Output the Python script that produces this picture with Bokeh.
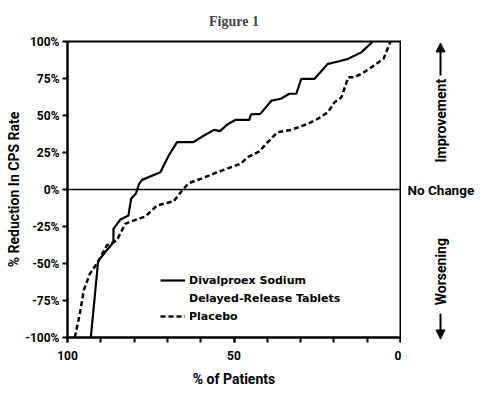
from bokeh.plotting import figure
from bokeh.layouts import row
from bokeh.models import (Range1d, FixedTicker, PrintfTickFormatter, Span,
                          Arrow, NormalHead, Legend, LegendItem)
from bokeh.core.properties import value
from bokeh.embed import file_html
from bokeh.resources import INLINE

# % of patients (x) vs % reduction in CPS rate (y)
divalproex_x = [93.0, 90.8, 88.7, 86.2, 86.2, 84.2, 81.7, 80.9, 79.4, 78.5, 77.6, 72.1,
                69.6, 67.1, 62.2, 59.0, 56.0, 54.2, 52.0, 49.5, 45.4, 44.9, 42.1, 38.7,
                35.9, 33.4, 31.3, 29.8, 25.8, 21.8, 18.7, 15.7, 11.7, 8.3]
divalproex_y = [-100, -48.4, -42.4, -35.6, -26.6, -20.5, -17.6, -6.3, -2.5, 3.8, 6.5, 11.7,
                23.0, 32.0, 32.0, 36.5, 40.3, 39.4, 43.9, 47.1, 47.1, 50.7, 51.1, 60.1,
                61.3, 64.7, 64.7, 74.8, 74.8, 84.9, 86.5, 88.3, 92.8, 100]

placebo_x = [97.8, 96.3, 95.1, 93.3, 91.2, 88.2, 85.2, 82.7, 80.2, 76.6, 73.1, 68.1,
             65.6, 63.6, 60.0, 55.0, 51.0, 48.0, 45.9, 42.4, 39.9, 36.9, 32.8, 27.8,
             24.8, 21.8, 19.8, 17.7, 15.7, 13.7, 11.7, 8.7, 5.1, 3.0]
placebo_y = [-100, -84, -68, -57, -50.2, -37.8, -34.5, -23.2, -21, -18.2, -10.8, -7.9,
             -0.7, 4.3, 7.2, 11.7, 15.0, 17.4, 21.8, 25.7, 32.0, 38.7, 40.3, 44.4,
             47.8, 52.2, 59.0, 62.4, 75.9, 75.9, 78.2, 82.6, 88.3, 100]

x_major = [0, 50, 100]
x_minor = [0, 10, 20, 30, 40, 50, 60, 70, 80, 90, 100]
y_ticks = [-100, -75, -50, -25, 0, 25, 50, 75, 100]

side_labels = ["Improvement", "Worsening"]
side_label_y = [46.5, -55.5]

FONT = "Roboto"

yr = Range1d(-100, 100)
p = figure(width=401, height=394, output_backend="svg", toolbar_location=None,
           x_range=Range1d(100, 0), y_range=yr,
           min_border_left=67, min_border_right=1, min_border_top=41,
           min_border_bottom=57, title="Figure 1")

p.title.align = "center"
p.title.vertical_align = "top"
p.title.offset = -4
p.title.text_font = "Liberation Serif"
p.title.text_font_size = "14px"
p.title.text_font_style = "bold"
p.title.standoff = 21

p.grid.visible = False
p.outline_line_color = "black"
p.outline_line_width = 2

p.xaxis.ticker = FixedTicker(ticks=x_major, minor_ticks=x_minor)
p.yaxis.ticker = FixedTicker(ticks=y_ticks)
p.yaxis.formatter = PrintfTickFormatter(format="%d%%")
p.yaxis.minor_tick_line_color = None
p.xaxis.axis_label = "% of Patients"
p.yaxis.axis_label = "% Reduction In CPS Rate"
for ax in (p.xaxis[0], p.yaxis[0]):
    ax.axis_line_width = 2
    ax.major_tick_line_width = 2
    ax.minor_tick_line_width = 2
    ax.major_tick_in = 0
    ax.major_tick_out = 5
    ax.minor_tick_in = 0
    ax.minor_tick_out = 5
    ax.major_label_text_font = FONT
    ax.major_label_text_font_style = "bold"
    ax.major_label_text_font_size = "12px"
    ax.major_label_text_color = "black"
    ax.axis_label_text_font = FONT
    ax.axis_label_text_font_style = "bold"
    ax.axis_label_text_font_size = "14px"
    ax.axis_label_text_color = "black"
p.xaxis.major_label_standoff = 8
p.xaxis.axis_label_standoff = 8
p.yaxis.major_label_standoff = 3
p.yaxis.axis_label_standoff = 0

p.add_layout(Span(location=0, dimension="width", line_color="black", line_width=1.5))

r1 = p.line(divalproex_x, divalproex_y, line_color="black", line_width=2.2)
r2 = p.line(placebo_x, placebo_y, line_color="black", line_width=2.5, line_dash="5 3")
r_blank = p.line([], [], line_alpha=0)

legend = Legend(items=[LegendItem(label="Divalproex Sodium", renderers=[r1]),
                       LegendItem(label="Delayed-Release Tablets", renderers=[r_blank]),
                       LegendItem(label="Placebo", renderers=[r2])],
                location=(93, 14), background_fill_alpha=0, border_line_alpha=0,
                padding=0, margin=0, spacing=4, glyph_width=25, glyph_height=14,
                label_standoff=4, label_height=14,
                label_text_font="DejaVu Sans", label_text_font_style="bold",
                label_text_font_size="11px", label_text_color="black")
p.add_layout(legend)

# right-hand side panel sharing the y scale
p2 = figure(width=79, height=394, output_backend="svg", toolbar_location=None,
            x_range=Range1d(0, 79), y_range=yr, x_axis_type=None, y_axis_type=None,
            min_border_left=0, min_border_right=0, min_border_top=41, min_border_bottom=57)
p2.grid.visible = False
p2.outline_line_color = None
p2.text(x=[6], y=[0], text=["No Change"], text_align="left", text_baseline="middle",
        text_font=value(FONT), text_font_style="bold", text_font_size="13.5px",
        text_color="black")
p2.text(x=[39, 39], y=side_label_y, text=side_labels, angle=90, angle_units="deg",
        text_align="center", text_baseline="middle",
        text_font=value(FONT), text_font_style="bold", text_font_size="14px",
        text_color="black")
p2.add_layout(Arrow(x_start=39, y_start=77, x_end=39, y_end=99, line_width=2,
                    end=NormalHead(size=9, fill_color="black", line_color="black")))
p2.add_layout(Arrow(x_start=39, y_start=-84, x_end=39, y_end=-101, line_width=2,
                    end=NormalHead(size=9, fill_color="black", line_color="black")))

layout = row(p, p2)
open("out.html", "w").write(file_html(layout, INLINE))
